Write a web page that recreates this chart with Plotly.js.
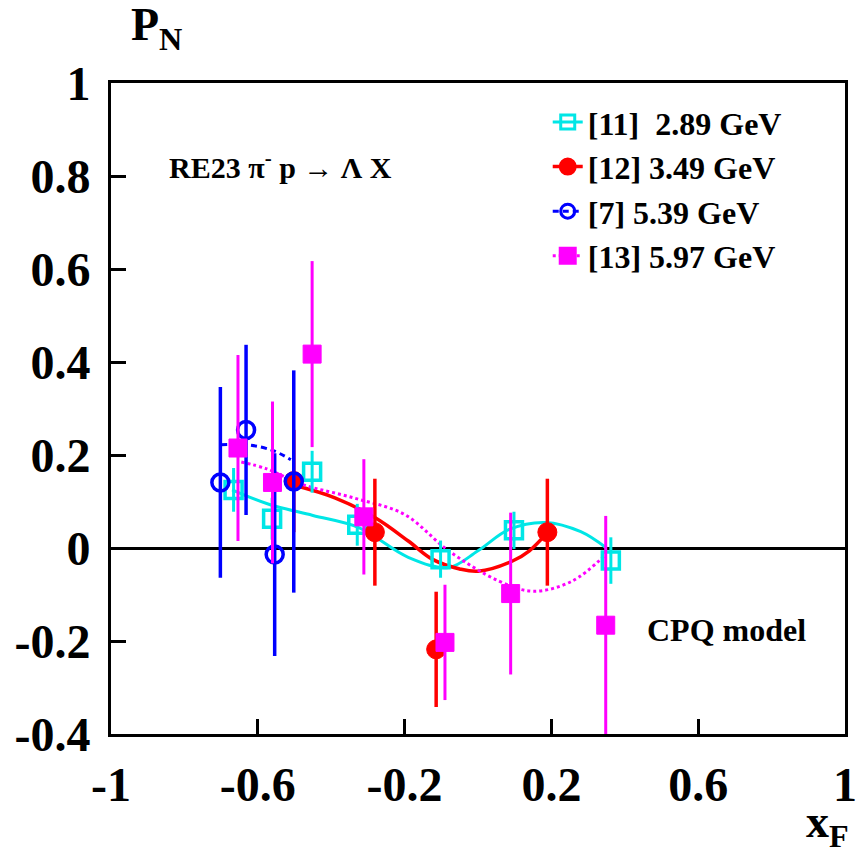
<!DOCTYPE html>
<html>
<head>
<meta charset="utf-8">
<script src="https://cdn.plot.ly/plotly-3.0.1.min.js"></script>
<style>html,body{margin:0;padding:0;background:#fff;}#chart{width:856px;height:861px;}</style>
</head>
<body>
<div id="chart"></div>
<script>
// ---- data: [11] 2.89 GeV (cyan open squares) ----
const x11 = [-0.666, -0.561, -0.452, -0.329, -0.102, 0.098, 0.362];
const y11 = [0.125, 0.063, 0.164, 0.050, -0.024, 0.038, -0.027];
const e11 = [0.047, 0.045, 0.045, 0.045, 0.040, 0.040, 0.050];
// ---- [12] 3.49 GeV (red filled circles) ----
const x12 = [-0.502, -0.281, -0.114, 0.189];
const y12 = [0.144, 0.034, -0.218, 0.034];
const e12 = [0.110, 0.115, 0.124, 0.115];
// ---- [7] 5.39 GeV (blue open circles) ----
const x7 = [-0.702, -0.632, -0.554, -0.502];
const y7 = [0.141, 0.254, -0.014, 0.143];
const e7 = [0.205, 0.183, 0.218, 0.239];
// ---- [13] 5.97 GeV (magenta filled squares) ----
const x13 = [-0.654, -0.560, -0.452, -0.311, -0.090, 0.089, 0.348];
const y13 = [0.215, 0.141, 0.417, 0.067, -0.203, -0.098, -0.166];
const e13 = [0.200, 0.174, 0.200, 0.124, 0.124, 0.174, 0.235];

// ---- CPQ model curves ----
const c11x = [-0.67, -0.57, -0.45, -0.325, -0.19, -0.08, 0.0, 0.085, 0.185, 0.28, 0.35];
const c11y = [0.125, 0.094, 0.070, 0.044, -0.020, -0.042, -0.006, 0.040, 0.055, 0.035, 0.0];
const c12x = [-0.50, -0.39, -0.28, -0.19, -0.125, -0.05, 0.0, 0.094, 0.14, 0.19];
const c12y = [0.135, 0.108, 0.065, 0.015, -0.024, -0.045, -0.050, -0.028, -0.006, 0.034];
const c7x = [-0.70, -0.63, -0.56, -0.51];
const c7y = [0.222, 0.222, 0.210, 0.190];
const c13x = [-0.645, -0.575, -0.48, -0.34, -0.20, -0.08, 0.057, 0.15, 0.257, 0.348];
const c13y = [0.185, 0.170, 0.137, 0.108, 0.072, -0.006, -0.071, -0.093, -0.071, -0.014];

// ---- labels / ticks ----
const seriesNames = ["[11]\u00a0\u00a02.89 GeV", "[12] 3.49 GeV", "[7] 5.39 GeV", "[13] 5.97 GeV"];
const xTickVals = [-1, -0.6, -0.2, 0.2, 0.6, 1];
const xTickText = ["-1", "-0.6", "-0.2", "0.2", "0.6", "1"];
const yTickVals = [-0.4, -0.2, 0, 0.2, 0.4, 0.6, 0.8, 1];
const yTickText = ["-0.4", "-0.2", "0", "0.2", "0.4", "0.6", "0.8", "1"];

const CYAN = "#00e6e6", RED = "#ff0000", BLUE = "#0000ff", MAG = "#ff00ff";
const SERIF = "Liberation Serif, Times New Roman, serif";

// Curve trace: legend key shows the data marker + the curve line style
function curve(cx, cy, name, color, dash, width, symbol, msize) {
  const xs = [null].concat(cx), ys = [null].concat(cy);
  const cols = xs.map((v, i) => i === 0 ? color : "rgba(0,0,0,0)");
  return {
    x: xs, y: ys, name: name, type: "scatter", mode: "lines+markers",
    line: {color: color, width: width, dash: dash, shape: "spline", smoothing: 1},
    marker: {symbol: symbol, size: msize, color: cols, line: {width: 3, color: cols}},
    hoverinfo: "skip", showlegend: true
  };
}
function pts(x, y, e, color, symbol, size, ew, lw) {
  return {
    x: x, y: y, type: "scatter", mode: "markers", showlegend: false,
    marker: {symbol: symbol, size: size, color: color, line: {width: lw, color: color}},
    error_y: {type: "data", array: e, visible: true, color: color, thickness: ew, width: 0}
  };
}

const data = [
  curve(c11x, c11y, seriesNames[0], CYAN, "solid", 3, "square-open", 14),
  curve(c12x, c12y, seriesNames[1], RED, "solid", 3.5, "circle", 15),
  curve(c7x, c7y, seriesNames[2], BLUE, "6px,4px", 3, "circle-open", 14),
  curve(c13x, c13y, seriesNames[3], MAG, "3px,3px", 3, "square", 15),
  pts(x11, y11, e11, CYAN, "square-open", 17, 3, 3.5),
  pts(x12, y12, e12, RED, "circle", 19, 3.5, 1),
  pts(x7, y7, e7, BLUE, "circle-open", 17, 3.5, 3.5),
  pts(x13, y13, e13, MAG, "square", 18, 3, 1)
];

const axisCommon = {
  showgrid: false, showline: true, linecolor: "#000", linewidth: 3, mirror: true,
  ticks: "inside", ticklen: 15, tickwidth: 3, tickcolor: "#000",
  tickfont: {family: SERIF, size: 48, color: "#000", weight: "bold"},
  tickmode: "array", ticklabeloverflow: "allow"
};

const layout = {
  width: 856, height: 861,
  margin: {l: 111, r: 11, t: 83, b: 127},
  paper_bgcolor: "#fff", plot_bgcolor: "#fff",
  font: {family: SERIF, color: "#000"},
  xaxis: Object.assign({}, axisCommon, {
    range: [-1, 1], tickvals: xTickVals, ticktext: xTickText, zeroline: false,
    ticklabelstandoff: 6
  }),
  yaxis: Object.assign({}, axisCommon, {
    range: [-0.4, 1], tickvals: yTickVals, ticktext: yTickText,
    zeroline: true, zerolinecolor: "#000", zerolinewidth: 3,
    ticklabelstandoff: 8
  }),
  legend: {
    x: 0.595, y: 0.982, xanchor: "left", yanchor: "top",
    bgcolor: "rgba(0,0,0,0)", borderwidth: 0,
    font: {family: SERIF, size: 32, color: "#000", weight: "bold"},
    tracegroupgap: 0
  },
  showlegend: true,
  annotations: [
    {xref: "paper", yref: "paper", x: 0.076, y: 0.874, xanchor: "left", yanchor: "middle",
     text: "RE23 π<sup>-</sup> p → Λ X", showarrow: false,
     font: {family: SERIF, size: 30, color: "#000", weight: "bold"}},
    {xref: "paper", yref: "paper", x: 0.7275, y: 0.16, xanchor: "left", yanchor: "middle",
     text: "CPQ model", showarrow: false,
     font: {family: SERIF, size: 32, color: "#000", weight: "bold"}},
    {xref: "paper", yref: "paper", x: 0.024, y: 1.085, xanchor: "left", yanchor: "middle",
     text: "P<sub>N</sub>", showarrow: false,
     font: {family: SERIF, size: 46, color: "#000", weight: "bold"}},
    {xref: "paper", yref: "paper", x: 1.008, y: -0.14, xanchor: "right", yanchor: "middle",
     text: "x<sub>F</sub>", showarrow: false,
     font: {family: SERIF, size: 46, color: "#000", weight: "bold"}}
  ]
};

Plotly.newPlot("chart", data, layout, {staticPlot: true, displayModeBar: false});
</script>
</body>
</html>
